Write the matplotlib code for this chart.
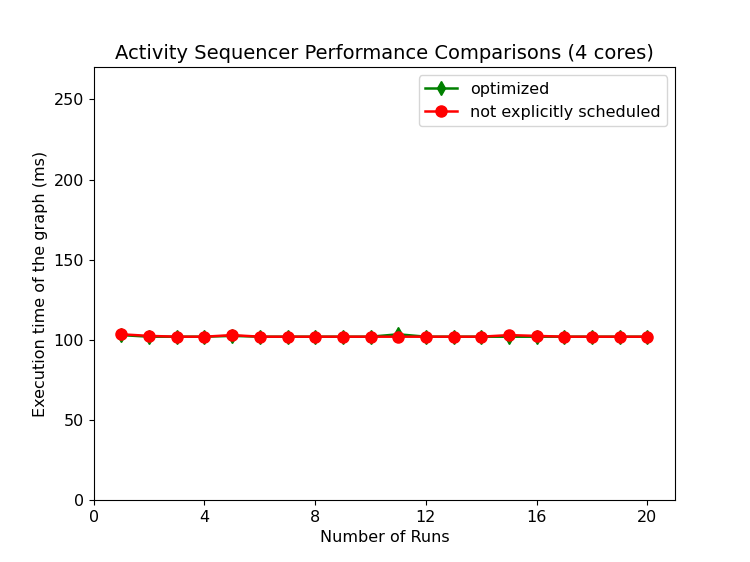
import matplotlib
matplotlib.use('Agg')
import matplotlib.pyplot as plt

# run index and measured execution times (ms)
runs = list(range(1, 21))
optimized = [103, 102, 102, 102, 102.5, 102, 102, 102, 102, 102,
             103.5, 102, 102, 102, 102, 102, 102, 102, 102, 102]
not_scheduled = [103.5, 102.5, 102, 102, 103, 102, 102, 102, 102, 102,
                 102, 102, 102, 102, 103, 102.5, 102, 102, 102, 102]
xticks = [0, 4, 8, 12, 16, 20]

plt.rcParams['font.size'] = 11.5

fig, ax = plt.subplots(figsize=(7.5, 5.62), dpi=100)
ax.plot(runs, optimized, color='green', marker='d', markersize=7.5,
        linewidth=1.8, label='optimized')
ax.plot(runs, not_scheduled, color='red', marker='o', markersize=8,
        linewidth=1.8, label='not explicitly scheduled')

ax.set_xlim(0, 21)
ax.set_ylim(0, 270)
ax.set_xticks(xticks)
ax.tick_params(labelsize=11.5)
ax.set_xlabel('Number of Runs', fontsize=11.5)
ax.set_ylabel('Execution time of the graph (ms)', fontsize=11.5)
ax.set_title('Activity Sequencer Performance Comparisons (4 cores)', fontsize=14)
ax.legend(loc='upper right', fontsize=11.5)

plt.savefig('out.png', dpi=100)
plt.close()
